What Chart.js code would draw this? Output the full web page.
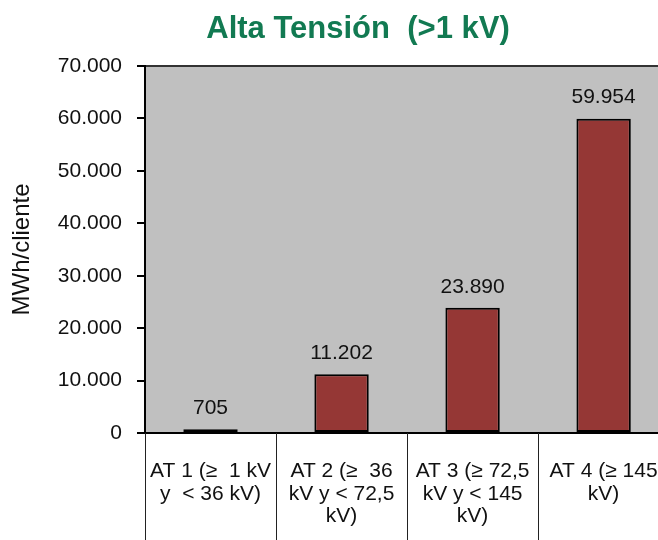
<!DOCTYPE html>
<html>
<head>
<meta charset="utf-8">
<script src="https://cdn.jsdelivr.net/npm/chart.js@4"></script>
<style>
  html, body { margin: 0; padding: 0; background: #fff; overflow: hidden; }
  #wrap { width: 685px; height: 540px; }
</style>
</head>
<body>
<div id="wrap"><canvas id="chart" width="685" height="540"></canvas></div>
<script>
const chartTitle = 'Alta Tensión  (>1 kV)';
const categories = [
  ['AT 1 (≥  1 kV', 'y  < 36 kV)'],
  ['AT 2 (≥  36', 'kV y < 72,5', 'kV)'],
  ['AT 3 (≥ 72,5', 'kV y < 145', 'kV)'],
  ['AT 4 (≥ 145', 'kV)']
];
const consumo = [705, 11202, 23890, 59954];
const yTicks = [0, 10000, 20000, 30000, 40000, 50000, 60000, 70000];

const fmt = n => String(n).replace(/\B(?=(\d{3})+(?!\d))/g, '.');
const family = '"Liberation Sans", Arial, sans-serif';

const plotArea = {
  id: 'plotArea',
  beforeDraw(chart) {
    const { ctx, chartArea: a } = chart;
    ctx.save();
    ctx.fillStyle = '#c0c0c0';
    ctx.fillRect(a.left, a.top, a.right - a.left, a.bottom - a.top);
    ctx.strokeStyle = '#333';
    ctx.lineWidth = 2;
    ctx.beginPath();
    ctx.moveTo(a.left, a.top);
    ctx.lineTo(a.right, a.top);
    ctx.stroke();
    ctx.restore();
  },
  afterDraw(chart) {
    const { ctx, chartArea: a } = chart;
    const x = chart.scales.x;
    const step = x.getPixelForValue(1) - x.getPixelForValue(0);
    ctx.save();
    ctx.strokeStyle = '#222';
    ctx.lineWidth = 1;
    for (let i = 0; i <= categories.length; i++) {
      const px = Math.round(x.getPixelForValue(0) - step / 2 + i * step) + 0.5;
      ctx.beginPath();
      ctx.moveTo(px, a.bottom);
      ctx.lineTo(px, chart.height);
      ctx.stroke();
    }
    // title
    ctx.fillStyle = '#127a52';
    ctx.font = 'bold 31px ' + family;
    ctx.textAlign = 'center';
    ctx.textBaseline = 'middle';
    ctx.fillText(chartTitle, 358, 29);
    // value labels
    ctx.fillStyle = '#111';
    ctx.font = '21px ' + family;
    chart.getDatasetMeta(0).data.forEach((bar, i) => {
      ctx.fillText(fmt(consumo[i]), bar.x, bar.y - 21);
    });
    ctx.restore();
  }
};

new Chart(document.getElementById('chart'), {
  type: 'bar',
  data: {
    labels: categories,
    datasets: [{
      data: consumo,
      backgroundColor: '#953735',
      borderColor: '#000',
      borderWidth: 2,
      borderSkipped: false,
      barPercentage: 0.415,
      categoryPercentage: 1
    }]
  },
  options: {
    responsive: false,
    animation: false,
    layout: { padding: { top: 66, right: 3, bottom: 0, left: 0 } },
    plugins: { legend: { display: false }, tooltip: { enabled: false } },
    scales: {
      x: {
        afterFit: s => { s.height = 107; },
        grid: { display: false, drawTicks: false },
        border: { display: true, color: '#000', width: 2 },
        ticks: {
          color: '#111',
          font: { family, size: 21, lineHeight: 1.08 },
          padding: 27,
          maxRotation: 0,
          autoSkip: false
        }
      },
      y: {
        min: 0,
        max: 70000,
        afterFit: s => { s.width = 145; },
        afterBuildTicks: s => { s.ticks = yTicks.map(v => ({ value: v })); },
        grid: { drawOnChartArea: false, drawTicks: true, tickLength: 8, color: '#000', lineWidth: 2 },
        border: { display: true, color: '#000', width: 2 },
        ticks: {
          color: '#111',
          font: { family, size: 21 },
          padding: 15,
          callback: v => fmt(v)
        },
        title: {
          display: true,
          text: 'MWh/cliente',
          color: '#111',
          font: { family, size: 24 },
          padding: { top: 8, bottom: 0 }
        }
      }
    }
  },
  plugins: [plotArea]
});
</script>
</body>
</html>
